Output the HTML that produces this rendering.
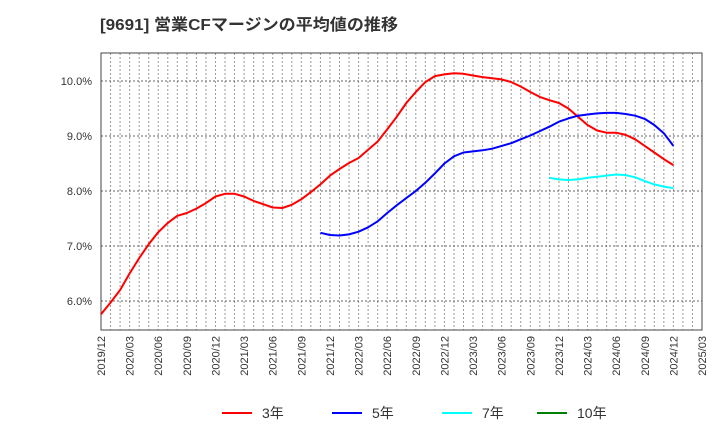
<!DOCTYPE html>
<html><head><meta charset="utf-8"><style>
body{margin:0;background:#fff;}
svg{display:block;font-family:"Liberation Sans","Noto Sans CJK JP",sans-serif;}
</style></head><body>
<svg id="chart" width="720" height="440" xmlns="http://www.w3.org/2000/svg">
<text x="100" y="30" font-size="16" font-weight="bold" fill="#333" textLength="298" lengthAdjust="spacingAndGlyphs">[9691]  営業CFマージンの平均値の推移</text>
<g id="grid"></g><g id="axes"></g><g id="series"></g>
<g font-size="14" fill="#333">
<g><line x1="222" y1="413" x2="252" y2="413" stroke="#f00" stroke-width="2"/><text x="262" y="418">3年</text></g>
<g><line x1="332" y1="413" x2="362" y2="413" stroke="#00f" stroke-width="2"/><text x="372" y="418">5年</text></g>
<g><line x1="442" y1="413" x2="472" y2="413" stroke="#0ff" stroke-width="2"/><text x="482" y="418">7年</text></g>
<g><line x1="537" y1="413" x2="567" y2="413" stroke="#008000" stroke-width="2"/><text x="577" y="418">10年</text></g>
</g>
</svg>
<script>
const xTickLabels=["2019/12","2020/03","2020/06","2020/09","2020/12","2021/03","2021/06","2021/09","2021/12","2022/03","2022/06","2022/09","2022/12","2023/03","2023/06","2023/09","2023/12","2024/03","2024/06","2024/09","2024/12","2025/03"];
const yTicks=[6,7,8,9,10];
const y3=[5.76,5.97,6.2,6.5,6.78,7.03,7.25,7.42,7.55,7.6,7.68,7.78,7.9,7.95,7.95,7.9,7.82,7.76,7.7,7.69,7.75,7.85,7.98,8.12,8.28,8.4,8.51,8.6,8.75,8.9,9.12,9.35,9.6,9.8,9.98,10.09,10.12,10.14,10.13,10.1,10.07,10.05,10.03,9.98,9.9,9.8,9.71,9.65,9.6,9.5,9.35,9.2,9.1,9.06,9.06,9.02,8.94,8.82,8.7,8.58,8.47];
const start3=0;
const y5=[7.24,7.2,7.19,7.21,7.26,7.34,7.45,7.6,7.74,7.87,8.0,8.15,8.32,8.5,8.63,8.7,8.72,8.74,8.77,8.82,8.87,8.94,9.01,9.09,9.17,9.26,9.32,9.37,9.39,9.41,9.42,9.42,9.4,9.37,9.31,9.2,9.05,8.82];
const start5=23;
const y7=[8.24,8.21,8.2,8.21,8.24,8.26,8.28,8.3,8.29,8.25,8.18,8.12,8.08,8.05];
const start7=47;
const y10=[];
const start10=0;

const NS="http://www.w3.org/2000/svg";
const L=101,R=702,T=53,B=330;
const nMonths=63;
const xs=i=>L+(R-L)*i/nMonths;
const ys=v=>81+(10-v)*55;
function mk(tag,attrs,parent){const e=document.createElementNS(NS,tag);for(const k in attrs)e.setAttribute(k,attrs[k]);parent.appendChild(e);return e;}
const grid=document.getElementById('grid'),axes=document.getElementById('axes'),series=document.getElementById('series');
for(let m=0;m<=nMonths;m++){
  const l=mk('line',{x1:xs(m),x2:xs(m),y1:T,y2:B,stroke:'#999','stroke-width':1,'stroke-dasharray':'2,2'},grid);
  
  
}
yTicks.forEach(v=>{
  const l=mk('line',{x1:L,x2:R,y1:ys(v),y2:ys(v),stroke:'#666','stroke-width':1,'stroke-dasharray':'2,2'},grid);
  
  
  const t=mk('text',{x:92,y:ys(v)+4,'text-anchor':'end','font-size':11,fill:'#333'},axes);
  t.textContent=v.toFixed(1)+'%';
  
  
});
const box=mk('rect',{x:L,y:T,width:R-L,height:B-T,fill:'none',stroke:'#444','stroke-width':1},axes);


xTickLabels.forEach((s,i)=>{
  const x=xs(i*3);
  const t=mk('text',{x:x+4,y:336,'text-anchor':'end','font-size':11,fill:'#333',transform:`rotate(-90 ${x+4} 336)`},axes);
  t.textContent=s;
  
  
});
function draw(vals,start,color,name){
  if(!vals.length)return;
  const d=vals.map((v,i)=>(i?'L':'M')+xs(start+i).toFixed(1)+','+ys(v).toFixed(1)).join(' ');
  const p=mk('path',{d:d,fill:'none',stroke:color,'stroke-width':2,'stroke-linejoin':'round'},series);
  
  
}
draw(y3,start3,'#f00','line-3y');
draw(y5,start5,'#00f','line-5y');
draw(y7,start7,'#0ff','line-7y');
draw(y10,start10,'#008000','line-10y');
</script>
</body></html>
